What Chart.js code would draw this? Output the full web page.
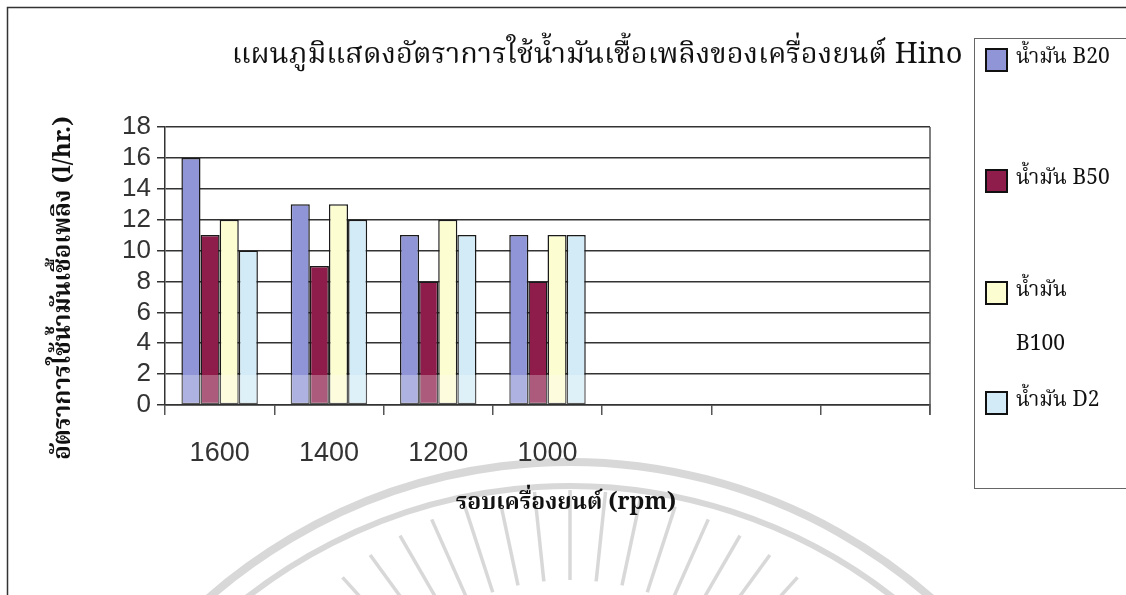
<!DOCTYPE html>
<html>
<head>
<meta charset="utf-8">
<title>อัตราการใช้น้ำมันเชื้อเพลิง Hino</title>
<script src="https://cdn.jsdelivr.net/npm/chart.js@4.4.0/dist/chart.umd.min.js"></script>
<style>
  html, body { margin: 0; padding: 0; background: #fff; }
  #wrap { width: 1126px; height: 595px; }
</style>
</head>
<body>
<div id="wrap"><canvas id="fuelChart" width="1126" height="595"></canvas></div>
<script>
// engine speed (rpm); the last three slots are left empty on the axis
const rpmLabels = ['1600', '1400', '1200', '1000', '', '', ''];

// fuel consumption, l/hr
const fuelB20 = [16, 13, 11, 11];
const fuelB50 = [11, 9, 8, 8];
const fuelB100 = [12, 13, 12, 11];
const fuelD2 = [10, 12, 11, 11];

const seriesNames = [['น้ำมัน B20'], ['น้ำมัน B50'], ['น้ำมัน', 'B100'], ['น้ำมัน D2']];
const yMin = 0, yMax = 18, yStep = 2;

const chartTitle = 'แผนภูมิแสดงอัตราการใช้น้ำมันเชื้อเพลิงของเครื่องยนต์ Hino';
const xTitle = 'รอบเครื่องยนต์ (rpm)';
const yTitle = 'อัตราการใช้น้ำมันเชื้อเพลิง (l/hr.)';

const THAI_SERIF = '"Noto Serif Thai", "Noto Sans Thai", "TH Sarabun New", Norasi, Garuda, Loma, "Liberation Serif", serif';

// page frame, titles, legend box and the faint seal in the background
const decor = {
    id: 'decor',
    beforeDraw(chart) {
        const ctx = chart.ctx;
        ctx.save();
        ctx.strokeStyle = '#333';
        ctx.lineWidth = 1.5;
        ctx.beginPath();
        ctx.moveTo(7.5, 600);
        ctx.lineTo(7.5, 7.5);
        ctx.lineTo(1130, 7.5);
        ctx.stroke();

        // seal arcs and rays
        ctx.strokeStyle = 'rgba(200,200,200,0.7)';
        ctx.lineWidth = 8;
        ctx.beginPath();
        ctx.arc(570, 1010, 548, Math.PI * 1.08, Math.PI * 1.92);
        ctx.stroke();
        ctx.lineWidth = 6;
        ctx.beginPath();
        ctx.arc(570, 1010, 524, Math.PI * 1.1, Math.PI * 1.9);
        ctx.stroke();
        ctx.lineWidth = 3.5;
        for (let i = 0; i < 19; i++) {
            const a = Math.PI * (1.2 + i * 0.6 / 18);
            ctx.beginPath();
            ctx.moveTo(570 + Math.cos(a) * 250, 830 + Math.sin(a) * 250);
            ctx.lineTo(570 + Math.cos(a) * 340, 830 + Math.sin(a) * 340);
            ctx.stroke();
        }
        ctx.restore();
    },
    afterDraw(chart) {
        const ctx = chart.ctx;
        const area = chart.chartArea;
        ctx.save();

        // closing edge of the plot area
        ctx.strokeStyle = '#555';
        ctx.lineWidth = 1.5;
        ctx.beginPath();
        ctx.moveTo(area.right, area.top);
        ctx.lineTo(area.right, area.bottom + 10);
        ctx.stroke();

        // light band near the floor
        ctx.fillStyle = 'rgba(255,255,255,0.28)';
        ctx.fillRect(area.left + 1, area.bottom - 30, 430, 29);

        // chart title
        ctx.fillStyle = '#111';
        ctx.font = '29px ' + THAI_SERIF;
        ctx.textAlign = 'center';
        ctx.textBaseline = 'middle';
        ctx.fillText(chartTitle, 597, 58);

        // axis titles
        ctx.font = 'bold 23px ' + THAI_SERIF;
        ctx.fillText(xTitle, 566, 505);
        ctx.save();
        ctx.translate(66, 288);
        ctx.rotate(-Math.PI / 2);
        ctx.font = 'bold 24px ' + THAI_SERIF;
        ctx.fillText(yTitle, 0, 0);
        ctx.restore();

        // legend
        ctx.strokeStyle = '#666';
        ctx.lineWidth = 1;
        ctx.strokeRect(974.5, 38.5, 200, 450);
        const rowY = [60, 181, 293, 403];
        ctx.font = '21px ' + THAI_SERIF;
        ctx.textAlign = 'left';
        chart.data.datasets.forEach((ds, i) => {
            const y = rowY[i];
            ctx.fillStyle = ds.backgroundColor;
            ctx.fillRect(986, y - 11, 21, 22);
            ctx.strokeStyle = '#111';
            ctx.lineWidth = 2;
            ctx.strokeRect(986, y - 11, 21, 22);
            ctx.fillStyle = '#111';
            seriesNames[i].forEach((line, k) => {
                ctx.fillText(line, 1016, y + k * 54);
            });
        });
        ctx.restore();
    }
};

const ctx = document.getElementById('fuelChart').getContext('2d');
const fuelChart = new Chart(ctx, {
    type: 'bar',
    data: {
        labels: rpmLabels,
        datasets: [
            { label: seriesNames[0].join(' '), data: fuelB20, backgroundColor: '#8f95d6' },
            { label: seriesNames[1].join(' '), data: fuelB50, backgroundColor: '#8e1d4c' },
            { label: seriesNames[2].join(' '), data: fuelB100, backgroundColor: '#fdfdd2' },
            { label: seriesNames[3].join(' '), data: fuelD2, backgroundColor: '#d2ebf6' }
        ]
    },
    options: {
        responsive: false,
        animation: false,
        devicePixelRatio: 1,
        layout: { padding: { left: 0, top: 127, right: 196, bottom: 0 } },
        datasets: {
            bar: {
                categoryPercentage: 0.70,
                barPercentage: 1.0,
                borderColor: '#1a1a1a',
                borderWidth: 1.5,
                borderSkipped: false
            }
        },
        plugins: {
            legend: { display: false },
            title: { display: false },
            tooltip: { enabled: false }
        },
        scales: {
            x: {
                afterFit(scale) { scale.height = 190; },
                grid: {
                    drawOnChartArea: false,
                    drawTicks: true,
                    tickLength: 10,
                    color: '#555',
                    lineWidth: 1.5
                },
                border: { display: true, color: '#333', width: 1.5 },
                ticks: {
                    color: '#333',
                    padding: 22,
                    autoSkip: false,
                    maxRotation: 0,
                    font: { family: '"Liberation Sans", Arial, sans-serif', size: 27 }
                }
            },
            y: {
                min: yMin,
                max: yMax,
                afterFit(scale) { scale.width = 165; },
                grid: {
                    color: '#333',
                    lineWidth: 1.5,
                    drawTicks: true,
                    tickLength: 8
                },
                border: { display: true, color: '#333', width: 1.5 },
                ticks: {
                    stepSize: yStep,
                    autoSkip: false,
                    color: '#333',
                    padding: 6,
                    font: { family: '"Liberation Sans", Arial, sans-serif', size: 26 }
                }
            }
        }
    },
    plugins: [decor]
});
</script>
</body>
</html>
